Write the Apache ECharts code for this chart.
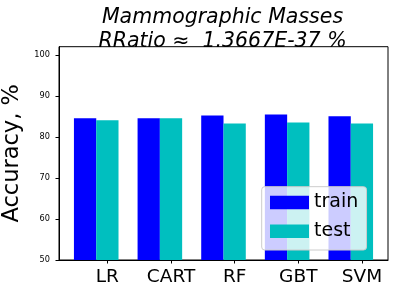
<!DOCTYPE html>
<html>
<head>
<meta charset="utf-8">
<script src="https://cdn.jsdelivr.net/npm/echarts@6/dist/echarts.min.js"></script>
<style>html,body{margin:0;padding:0;background:#fff;}#c{width:399px;height:293px;}</style>
</head>
<body>
<div id="c"></div>
<script>
const categories = ['LR', 'CART', 'RF', 'GBT', 'SVM'];
const trainValues = [84.55, 84.55, 85.2, 85.45, 85.05];
const testValues = [84.05, 84.55, 83.25, 83.55, 83.25];
const yTicks = [50, 60, 70, 80, 90, 100];
const titleLines = ['Mammographic Masses', 'RRatio \u2248  1.3667E-37 %'];
const seriesNames = ['train', 'test'];

const W = 0.35;
const trainData = trainValues.map((v, i) => [i, v]);
const testData = testValues.map((v, i) => [i + W, v]);
const tickPos = categories.map((c, i) => i + W);

const chart = echarts.init(document.getElementById('c'), null, {renderer: 'canvas'});
const font = 'DejaVu Sans';
chart.setOption({
  animation: false,
  title: {
    text: titleLines.join('\n'),
    left: 217.5, top: 1, textAlign: 'center',
    textStyle: {fontFamily: font, fontStyle: 'italic', fontWeight: 'normal', fontSize: 20.5, lineHeight: 24, color: '#000'}
  },
  grid: {left: 59, right: 11, top: 46.7, bottom: 33, show: true, borderColor: '#000', borderWidth: 1,
    backgroundColor: 'transparent', containLabel: false, outerBoundsMode: 'none'},
  legend: {
    orient: 'vertical', left: 261.7, top: 186.7,
    data: seriesNames,
    itemWidth: 39, itemHeight: 13.5, itemGap: 9.8, itemTextGap: 15.7,
    padding: [6.3, 8.3, 9.2, 8.3],
    backgroundColor: 'rgba(255,255,255,0.8)', borderColor: '#cccccc', borderWidth: 1, borderRadius: 3,
    icon: 'rect',
    textStyle: {fontFamily: font, fontSize: 19, lineHeight: 19, color: '#000'},
    z: 10
  },
  xAxis: {
    type: 'value', min: -0.41, max: 4.76,
    splitLine: {show: false},
    axisLine: {show: true, onZero: false, lineStyle: {color: '#000', width: 1}},
    axisTick: {show: true, length: 3.5, lineStyle: {color: '#000'}, customValues: tickPos},
    axisLabel: {customValues: tickPos, margin: 8, fontFamily: font, fontSize: 18.5, color: '#000',
      formatter: v => categories[Math.round(v - W)]}
  },
  yAxis: {
    type: 'value', min: 50, max: 102,
    name: 'Accuracy, %', nameLocation: 'middle', nameGap: 22, nameRotate: 90,
    nameTextStyle: {fontFamily: font, fontSize: 22.5, color: '#000'},
    splitLine: {show: false},
    axisLine: {show: true, onZero: false, lineStyle: {color: '#000', width: 1}},
    axisTick: {show: true, length: 3.5, lineStyle: {color: '#000'}, customValues: yTicks},
    axisLabel: {customValues: yTicks, margin: 9, fontFamily: font, fontSize: 8.2, color: '#000'}
  },
  series: [
    {name: seriesNames[0], type: 'bar', data: trainData, barWidth: 22.3, barGap: '-100%', itemStyle: {color: '#0000ff'}},
    {name: seriesNames[1], type: 'bar', data: testData, barWidth: 22.3, barGap: '-100%', itemStyle: {color: '#00bfbf'}}
  ]
});
</script>
</body>
</html>
